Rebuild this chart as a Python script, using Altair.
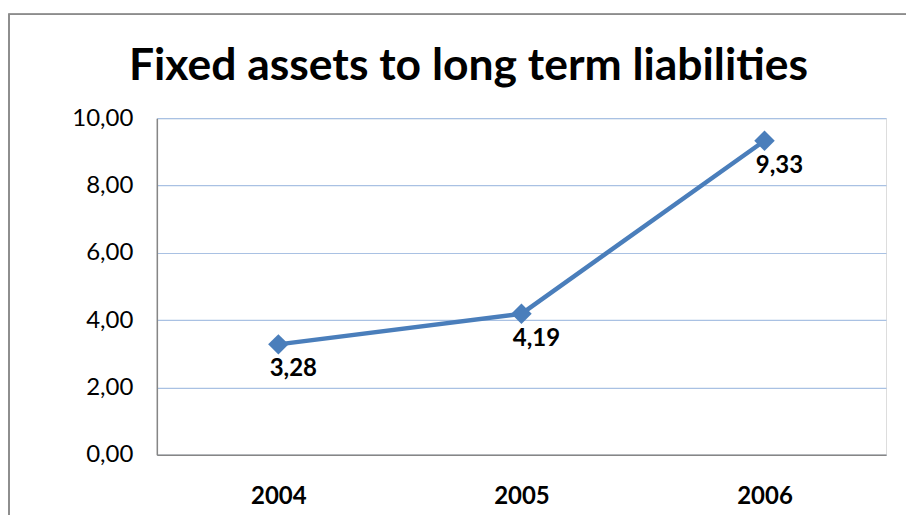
import altair as alt
import pandas as pd

years = ["2004", "2005", "2006"]
values = [3.28, 4.19, 9.33]
title_text = ["Fixed assets to long term liabilities"]

df = pd.DataFrame({"year": years, "value": values})

FONT = "Lato"
W, H = 730, 337
LEFT, TOP = 149, 110

base = alt.Chart(df).transform_calculate(
    label="replace(format(datum.value, '.2f'), '.', ',')"
)

x = alt.X("year:N", sort=years, title=None,
          scale=alt.Scale(type="point", padding=0.5),
          axis=alt.Axis(labelAngle=0, labelFont=FONT, labelFontSize=24, labelFontWeight="bold",
                        labelColor="black", labelPadding=30, ticks=False, domainColor="#868686",
                        domainWidth=1.5, grid=False))
y = alt.Y("value:Q", title=None,
          scale=alt.Scale(domain=[0, 10]),
          axis=alt.Axis(values=[0, 2, 4, 6, 8, 10],
                        labelExpr="replace(format(datum.value, '.2f'), '.', ',')",
                        labelFont=FONT, labelFontSize=24, labelColor="black", labelPadding=24,
                        ticks=False, domainColor="#868686", domainWidth=1.5,
                        grid=True, gridColor="#A9C1E3", gridWidth=1.2))

line = base.mark_line(color="#4A7EBB", strokeWidth=4.5).encode(x=x, y=y)
points = base.mark_point(shape="diamond", filled=True, size=420, color="#4A7EBB", opacity=1).encode(x=x, y=y)
labels = base.mark_text(font=FONT, fontSize=24, fontWeight="bold", color="black",
                        dx=15, dy=25, baseline="middle", align="center").encode(x=x, y=y, text="label:N")

frame = alt.Chart(df).mark_rect(fill=None, stroke="#8C8C8C", strokeWidth=1.5).encode(
    x=alt.value(-148), x2=alt.value(753), y=alt.value(-104), y2=alt.value(620)
)

title = alt.Chart(pd.DataFrame({"t": title_text})).mark_text(
    font=FONT, fontSize=44.5, fontWeight="bold", color="black", align="center", baseline="alphabetic"
).encode(text="t:N", x=alt.value(W / 2 - 53), y=alt.value(-38))

chart = alt.layer(frame, line, points, labels, title).properties(
    width=W, height=H,
    autosize=alt.AutoSizeParams(type="none"),
    padding={"left": LEFT, "top": TOP, "right": 20, "bottom": 60},
).configure_view(stroke=None).configure(background="white")

chart.save("out.html", embed_options={"renderer": "svg", "actions": False})
